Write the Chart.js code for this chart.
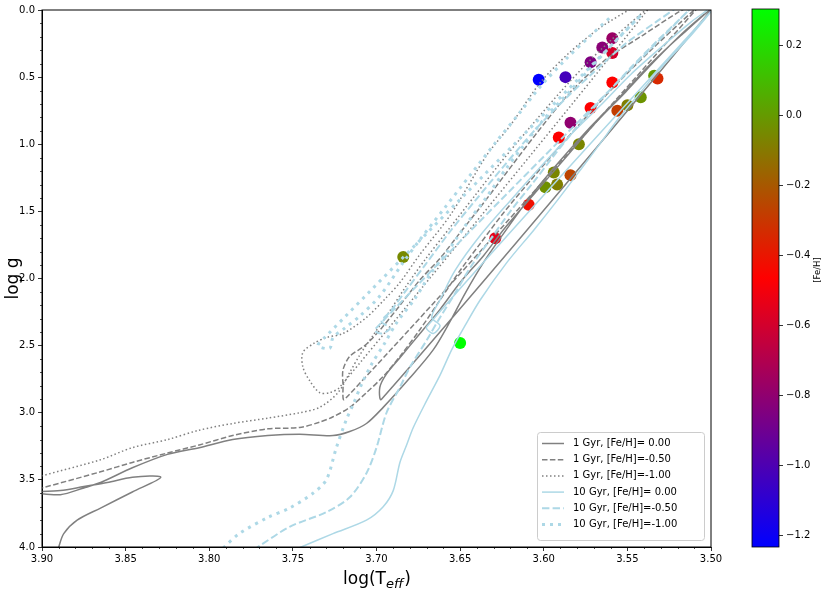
<!DOCTYPE html>
<html>
<head>
<meta charset="utf-8">
<script src="https://cdn.jsdelivr.net/npm/chart.js@4.4.0/dist/chart.umd.min.js"></script>
<style>
  html, body { margin: 0; padding: 0; background: #fff; }
  #wrap { position: relative; width: 830px; height: 593px; }
  #main { position: absolute; left: 0; top: 0; }
  #cbar { position: absolute; left: 740px; top: 0; }
</style>
</head>
<body>
<div id="wrap">
  <canvas id="main" width="830" height="593"></canvas>
  <canvas id="cbar" width="90" height="593"></canvas>
</div>
<script>
// isochrones: log(Teff) and log g, in drawing order
const young0Teff = [3.891, 3.890, 3.887, 3.879, 3.865, 3.846, 3.829, 3.846, 3.861, 3.875, 3.889, 3.907, 3.889, 3.875, 3.865, 3.846, 3.825, 3.806, 3.786, 3.765, 3.746, 3.726, 3.716, 3.706, 3.696, 3.680, 3.666, 3.656, 3.647, 3.636, 3.626, 3.608, 3.590, 3.572, 3.554, 3.536, 3.518, 3.500, 3.697, 3.698, 3.694, 3.686, 3.674, 3.662, 3.650, 3.636, 3.623, 3.605, 3.587, 3.569, 3.551, 3.533, 3.516, 3.504];
const young0Logg = [4.05, 4.00, 3.90, 3.80, 3.71, 3.59, 3.48, 3.48, 3.52, 3.55, 3.58, 3.59, 3.61, 3.56, 3.52, 3.41, 3.31, 3.26, 3.20, 3.17, 3.16, 3.17, 3.14, 3.08, 2.96, 2.74, 2.53, 2.32, 2.11, 1.88, 1.70, 1.39, 1.12, 0.87, 0.64, 0.40, 0.19, 0.00, 2.90, 2.81, 2.71, 2.59, 2.41, 2.23, 2.03, 1.83, 1.62, 1.36, 1.10, 0.84, 0.61, 0.37, 0.16, 0.03];

const young5Teff = [3.907, 3.900, 3.865, 3.846, 3.825, 3.806, 3.786, 3.765, 3.746, 3.734, 3.726, 3.716, 3.706, 3.696, 3.686, 3.674, 3.662, 3.650, 3.638, 3.624, 3.608, 3.590, 3.572, 3.554, 3.536, 3.518, 3.507, 3.719, 3.720, 3.720, 3.716, 3.707, 3.697, 3.686, 3.674, 3.662, 3.652, 3.638, 3.624, 3.605, 3.584, 3.563, 3.541, 3.520, 3.511];
const young5Logg = [3.58, 3.56, 3.44, 3.37, 3.30, 3.24, 3.17, 3.12, 3.11, 3.07, 3.03, 2.96, 2.85, 2.73, 2.58, 2.38, 2.16, 1.94, 1.74, 1.51, 1.27, 1.01, 0.76, 0.52, 0.30, 0.09, -0.03, 2.90, 2.79, 2.68, 2.58, 2.50, 2.37, 2.20, 2.01, 1.85, 1.69, 1.47, 1.24, 0.93, 0.61, 0.37, 0.19, 0.02, -0.04];

const young10Teff = [3.907, 3.900, 3.865, 3.846, 3.825, 3.806, 3.786, 3.765, 3.746, 3.734, 3.723, 3.716, 3.710, 3.703, 3.693, 3.683, 3.671, 3.656, 3.641, 3.626, 3.608, 3.590, 3.572, 3.554, 3.538, 3.722, 3.728, 3.734, 3.740, 3.744, 3.744, 3.737, 3.730, 3.720, 3.706, 3.694, 3.686, 3.674, 3.656, 3.634, 3.620, 3.602, 3.584, 3.566, 3.548];
const young10Logg = [3.50, 3.47, 3.35, 3.26, 3.20, 3.13, 3.08, 3.04, 3.00, 2.96, 2.85, 2.70, 2.57, 2.44, 2.26, 2.07, 1.86, 1.62, 1.38, 1.14, 0.87, 0.61, 0.37, 0.16, 0.00, 2.81, 2.85, 2.85, 2.76, 2.66, 2.55, 2.48, 2.44, 2.41, 2.29, 2.14, 2.03, 1.82, 1.53, 1.08, 0.86, 0.54, 0.31, 0.13, -0.01];

const old0Teff = [3.752, 3.745, 3.726, 3.706, 3.696, 3.690, 3.686, 3.682, 3.678, 3.670, 3.662, 3.655, 3.647, 3.638, 3.622, 3.606, 3.592, 3.578, 3.566, 3.556, 3.542, 3.527, 3.512, 3.500, 3.670, 3.666, 3.662, 3.667, 3.662, 3.653, 3.638, 3.620, 3.602, 3.584, 3.566, 3.548, 3.530, 3.512, 3.502];
const old0Logg = [4.04, 4.00, 3.90, 3.80, 3.70, 3.58, 3.37, 3.24, 3.11, 2.91, 2.72, 2.53, 2.35, 2.16, 1.88, 1.64, 1.42, 1.19, 0.99, 0.82, 0.61, 0.39, 0.19, 0.01, 2.36, 2.41, 2.35, 2.29, 2.16, 1.94, 1.68, 1.42, 1.17, 0.93, 0.71, 0.48, 0.28, 0.09, 0.00];

const old5Teff = [3.779, 3.771, 3.752, 3.730, 3.716, 3.706, 3.700, 3.694, 3.686, 3.680, 3.670, 3.662, 3.653, 3.644, 3.632, 3.620, 3.606, 3.593, 3.578, 3.563, 3.548, 3.533, 3.518, 3.510, 3.701, 3.697, 3.692, 3.697, 3.692, 3.683, 3.671, 3.656, 3.641, 3.623, 3.605, 3.587, 3.569, 3.551, 3.533, 3.518];
const old5Logg = [4.06, 4.00, 3.85, 3.74, 3.63, 3.45, 3.26, 3.00, 2.81, 2.66, 2.46, 2.29, 2.11, 1.92, 1.71, 1.50, 1.28, 1.07, 0.84, 0.63, 0.43, 0.24, 0.06, -0.04, 2.38, 2.41, 2.37, 2.32, 2.25, 2.10, 1.90, 1.65, 1.42, 1.15, 0.89, 0.66, 0.45, 0.25, 0.09, -0.04];

const old10Teff = [3.795, 3.791, 3.782, 3.765, 3.752, 3.738, 3.730, 3.724, 3.718, 3.714, 3.709, 3.703, 3.695, 3.688, 3.677, 3.668, 3.657, 3.646, 3.634, 3.623, 3.612, 3.599, 3.584, 3.569, 3.554, 3.542, 3.731, 3.735, 3.728, 3.726, 3.719, 3.710, 3.698, 3.684, 3.674, 3.659, 3.644, 3.629, 3.614, 3.602, 3.587, 3.572, 3.559];
const old10Logg = [4.05, 4.00, 3.90, 3.78, 3.71, 3.60, 3.50, 3.26, 3.05, 2.94, 2.79, 2.64, 2.48, 2.33, 2.15, 1.97, 1.79, 1.59, 1.39, 1.19, 1.01, 0.80, 0.60, 0.39, 0.19, 0.04, 2.44, 2.50, 2.52, 2.44, 2.37, 2.28, 2.13, 1.88, 1.71, 1.47, 1.23, 0.99, 0.76, 0.57, 0.37, 0.19, 0.04];

// stars
const starTeff = [3.603, 3.587, 3.572, 3.565, 3.559, 3.559, 3.559, 3.534, 3.532, 3.572, 3.542, 3.550, 3.556, 3.584, 3.591, 3.579, 3.594, 3.584, 3.599, 3.592, 3.609, 3.629, 3.650, 3.684];
const starLogg = [0.52, 0.50, 0.39, 0.28, 0.21, 0.32, 0.54, 0.49, 0.51, 0.73, 0.65, 0.71, 0.75, 0.84, 0.95, 1.00, 1.21, 1.23, 1.32, 1.30, 1.45, 1.70, 2.48, 1.84];
const starFeh = [-1.234, -1.03, -0.85, -0.82, -0.77, -0.59, -0.46, 0.00, -0.34, -0.46, -0.02, -0.08, -0.28, -0.80, -0.46, -0.06, -0.06, -0.26, -0.03, -0.08, -0.42, -0.54, 0.305, -0.05];

const legendLabels = ["1 Gyr, [Fe/H]= 0.00", "1 Gyr, [Fe/H]=-0.50", "1 Gyr, [Fe/H]=-1.00",
                      "10 Gyr, [Fe/H]= 0.00", "10 Gyr, [Fe/H]=-0.50", "10 Gyr, [Fe/H]=-1.00"];
const xTickStep = 0.05;
const yTickStep = 0.5;
const cbTickStep = 0.2;

const fehMin = Math.min(...starFeh);
const fehMax = Math.max(...starFeh);

Chart.defaults.font.family = '"DejaVu Sans", sans-serif';
Chart.defaults.color = "#000";

// matplotlib 'brg': blue -> red -> green
function brg(v) {
  const t = Math.min(1, Math.max(0, (v - fehMin) / (fehMax - fehMin)));
  let r, g, b;
  if (t < 0.5) { r = 2 * t; g = 0; b = 1 - 2 * t; }
  else { r = 2 * (1 - t); g = 2 * t - 1; b = 0; }
  return `rgb(${Math.round(r * 255)},${Math.round(g * 255)},${Math.round(b * 255)})`;
}

function track(tArr, gArr) {
  return tArr.map((t, i) => ({ x: t, y: gArr[i] }));
}

const GRAY = "#808080";
const LBLUE = "#add8e6";

function lineSet(label, tArr, gArr, color, width, dash, order) {
  return {
    label: label,
    data: track(tArr, gArr),
    showLine: true,
    borderColor: color,
    backgroundColor: color,
    borderWidth: width,
    borderDash: dash,
    pointRadius: 0,
    pointHoverRadius: 0,
    tension: 0.3,
    fill: false,
    order: order,
  };
}

const lineSets = [
  lineSet(legendLabels[0], young0Teff, young0Logg, GRAY, 1.5, [], 5),
  lineSet(legendLabels[1], young5Teff, young5Logg, GRAY, 1.5, [5.5, 2.4], 5),
  lineSet(legendLabels[2], young10Teff, young10Logg, GRAY, 1.5, [1.5, 2.5], 5),
  lineSet(legendLabels[3], old0Teff, old0Logg, LBLUE, 1.5, [], 2),
  lineSet(legendLabels[4], old5Teff, old5Logg, LBLUE, 2, [7.4, 3.2], 2),
  lineSet(legendLabels[5], old10Teff, old10Logg, LBLUE, 3, [3, 5], 2),
];

const starSet = {
  label: "stars",
  data: track(starTeff, starLogg),
  backgroundColor: starFeh.map(brg),
  borderWidth: 0,
  pointRadius: 6,
  pointHoverRadius: 6,
  showLine: false,
  order: 10,
};

// minor ticks, frame, axis titles and the legend box
const decor = {
  id: "decor",
  afterDraw(chart) {
    const ctx = chart.ctx;
    const a = chart.chartArea;
    const xs = chart.scales.x, ys = chart.scales.y;
    ctx.save();
    ctx.strokeStyle = "#000";
    ctx.lineWidth = 0.7;
    for (let k = 350; k <= 390; k++) {
      if (k % 5 === 0) continue;
      const px = Math.round(xs.getPixelForValue(k / 100)) + 0.5;
      ctx.beginPath(); ctx.moveTo(px, a.bottom); ctx.lineTo(px, a.bottom + 2); ctx.stroke();
    }
    for (let k = 0; k <= 40; k++) {
      if (k % 5 === 0) continue;
      const py = Math.round(ys.getPixelForValue(k / 10)) + 0.5;
      ctx.beginPath(); ctx.moveTo(a.left, py); ctx.lineTo(a.left - 2, py); ctx.stroke();
    }
    ctx.lineWidth = 1;
    ctx.strokeRect(a.left, a.top, a.right - a.left, a.bottom - a.top);

    // axis titles
    ctx.fillStyle = "#000";
    ctx.save();
    ctx.translate(14, (a.top + a.bottom) / 2);
    ctx.rotate(-Math.PI / 2);
    ctx.font = '17px "DejaVu Sans"';
    ctx.textAlign = "center";
    ctx.textBaseline = "middle";
    ctx.fillText("log g", 0, 0);
    ctx.restore();

    const big = '17px "DejaVu Sans"', sub = 'italic 13px "DejaVu Sans"';
    ctx.textBaseline = "alphabetic";
    ctx.textAlign = "left";
    ctx.font = big; const w1 = ctx.measureText("log(T").width;
    const w3 = ctx.measureText(")").width;
    ctx.font = sub; const w2 = ctx.measureText("eff").width;
    const x0 = (a.left + a.right) / 2 - (w1 + w2 + w3) / 2;
    const base = 584;
    ctx.font = big; ctx.fillText("log(T", x0, base);
    ctx.font = sub; ctx.fillText("eff", x0 + w1, base + 4);
    ctx.font = big; ctx.fillText(")", x0 + w1 + w2 + 1, base);

    // legend
    const lx = 537, ly = 432, lw = 167, lh = 108;
    ctx.beginPath();
    ctx.roundRect(lx + 0.5, ly + 0.5, lw, lh, 3);
    ctx.fillStyle = "rgba(255,255,255,0.85)";
    ctx.fill();
    ctx.strokeStyle = "#cccccc";
    ctx.lineWidth = 1;
    ctx.stroke();
    ctx.font = '10px "DejaVu Sans"';
    ctx.textBaseline = "middle";
    lineSets.forEach((ds, i) => {
      const yy = ly + 11.5 + i * 16.2;
      ctx.beginPath();
      ctx.strokeStyle = ds.borderColor;
      ctx.lineWidth = ds.borderWidth;
      ctx.setLineDash(ds.borderDash);
      ctx.moveTo(lx + 5, yy); ctx.lineTo(lx + 27, yy);
      ctx.stroke();
      ctx.setLineDash([]);
      ctx.fillStyle = "#000";
      ctx.fillText(ds.label, lx + 36, yy);
    });
    ctx.restore();
  },
};

new Chart(document.getElementById("main"), {
  type: "scatter",
  data: { datasets: [...lineSets, starSet] },
  options: {
    responsive: false,
    animation: false,
    events: [],
    elements: { line: { capBezierPoints: false } },
    layout: { padding: { top: 10, right: 119, bottom: 0, left: 0 } },
    plugins: { legend: { display: false }, tooltip: { enabled: false } },
    scales: {
      x: {
        type: "linear",
        reverse: true,
        min: 3.5,
        max: 3.9,
        afterFit(scale) { scale.height = 46; },
        ticks: {
          stepSize: xTickStep,
          font: { size: 10 },
          color: "#000",
          padding: 2,
          maxRotation: 0,
          callback: (v) => Number(v).toFixed(2),
        },
        grid: { drawOnChartArea: false, tickLength: 4, color: "#000", lineWidth: 0.8 },
        border: { display: true, color: "#000", width: 1 },
      },
      y: {
        type: "linear",
        reverse: true,
        min: 0,
        max: 4,
        afterFit(scale) { scale.width = 42; },
        ticks: {
          stepSize: yTickStep,
          font: { size: 10 },
          color: "#000",
          padding: 3,
          callback: (v) => Number(v).toFixed(1),
        },
        grid: { drawOnChartArea: false, tickLength: 4, color: "#000", lineWidth: 0.8 },
        border: { display: true, color: "#000", width: 1 },
      },
    },
  },
  plugins: [decor],
});

// colour bar
const cbFrame = {
  id: "cbFrame",
  afterDraw(chart) {
    const ctx = chart.ctx;
    const a = chart.chartArea;
    ctx.save();
    ctx.strokeStyle = "#000";
    ctx.lineWidth = 0.8;
    ctx.strokeRect(a.left, a.top, a.right - a.left, a.bottom - a.top);
    ctx.translate(78, (a.top + a.bottom) / 2 - 8);
    ctx.rotate(-Math.PI / 2);
    ctx.font = '8.5px "DejaVu Sans"';
    ctx.fillStyle = "#000";
    ctx.textAlign = "center";
    ctx.textBaseline = "middle";
    ctx.fillText("[Fe/H]", 0, 0);
    ctx.restore();
  },
};

new Chart(document.getElementById("cbar"), {
  type: "bar",
  data: {
    labels: ["[Fe/H]"],
    datasets: [{
      data: [[fehMin, fehMax]],
      barPercentage: 1,
      categoryPercentage: 1,
      borderWidth: 0,
      borderSkipped: false,
      backgroundColor(c) {
        const chart = c.chart;
        if (!chart.chartArea) return "#f00";
        const ys = chart.scales.y;
        const grad = chart.ctx.createLinearGradient(0, ys.getPixelForValue(fehMin), 0, ys.getPixelForValue(fehMax));
        grad.addColorStop(0, "rgb(0,0,255)");
        grad.addColorStop(0.5, "rgb(255,0,0)");
        grad.addColorStop(1, "rgb(0,255,0)");
        return grad;
      },
    }],
  },
  options: {
    responsive: false,
    animation: false,
    events: [],
    layout: { padding: { top: 9, right: 0, bottom: 46, left: 12 } },
    plugins: { legend: { display: false }, tooltip: { enabled: false } },
    scales: {
      x: { display: false },
      y: {
        position: "right",
        min: fehMin,
        max: fehMax,
        afterFit(scale) { scale.width = 51; },
        ticks: {
          stepSize: cbTickStep,
          includeBounds: false,
          font: { size: 10 },
          color: "#000",
          padding: 3,
          callback: (v) => Number(v).toFixed(1).replace("-", "\u2212"),
        },
        grid: { drawOnChartArea: false, tickLength: 4, color: "#000", lineWidth: 0.8 },
        border: { display: false },
      },
    },
  },
  plugins: [cbFrame],
});
</script>
</body>
</html>
